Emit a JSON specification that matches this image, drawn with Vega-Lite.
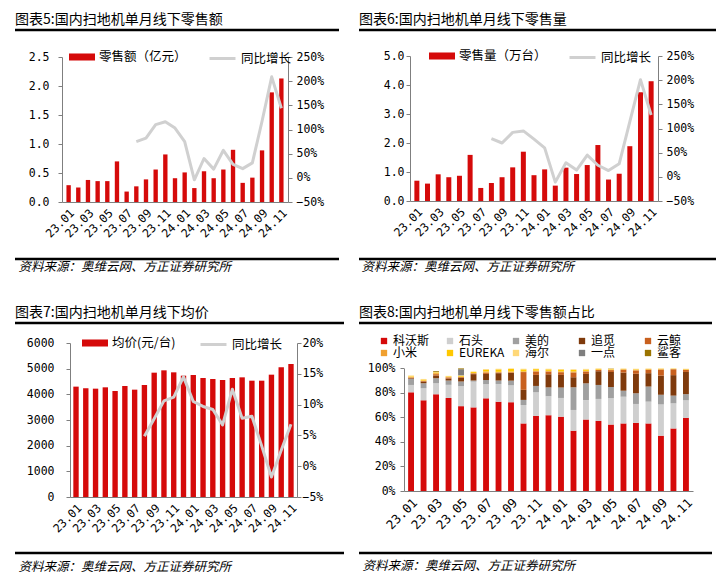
{
  "$schema": "https://vega.github.io/schema/vega-lite/v6.json",
  "background": "white",
  "padding": {"left": 13, "top": 13, "right": 0, "bottom": 0},
  "datasets": {
    "edges": [{"edge": "top"}, {"edge": "bottom"}],
    "p1": [
      {"m": "23.01", "v": 0.29}, {"m": "23.02", "v": 0.25}, {"m": "23.03", "v": 0.38}, {"m": "23.04", "v": 0.36},
      {"m": "23.05", "v": 0.36}, {"m": "23.06", "v": 0.70}, {"m": "23.07", "v": 0.18},
      {"m": "23.08", "v": 0.27, "g": 0.75}, {"m": "23.09", "v": 0.39, "g": 0.82}, {"m": "23.10", "v": 0.56, "g": 1.10},
      {"m": "23.11", "v": 0.82, "g": 1.16}, {"m": "23.12", "v": 0.41, "g": 1.03}, {"m": "24.01", "v": 0.51, "g": 0.75},
      {"m": "24.02", "v": 0.24, "g": -0.04}, {"m": "24.03", "v": 0.53, "g": 0.40}, {"m": "24.04", "v": 0.41, "g": 0.18},
      {"m": "24.05", "v": 0.56, "g": 0.57}, {"m": "24.06", "v": 0.90, "g": 0.28}, {"m": "24.07", "v": 0.33, "g": 0.19},
      {"m": "24.08", "v": 0.42, "g": 0.31}, {"m": "24.09", "v": 0.89, "g": 1.17}, {"m": "24.10", "v": 1.89, "g": 2.09},
      {"m": "24.11", "v": 2.13, "g": 1.44}
    ],
    "p2": [
      {"m": "23.01", "v": 0.70}, {"m": "23.02", "v": 0.60}, {"m": "23.03", "v": 0.92}, {"m": "23.04", "v": 0.82},
      {"m": "23.05", "v": 0.87}, {"m": "23.06", "v": 1.59}, {"m": "23.07", "v": 0.45},
      {"m": "23.08", "v": 0.62, "g": 0.79}, {"m": "23.09", "v": 0.82, "g": 0.70}, {"m": "23.10", "v": 1.16, "g": 0.92},
      {"m": "23.11", "v": 1.70, "g": 0.95}, {"m": "23.12", "v": 0.89, "g": 0.78}, {"m": "24.01", "v": 1.09, "g": 0.60},
      {"m": "24.02", "v": 0.53, "g": -0.11}, {"m": "24.03", "v": 1.15, "g": 0.29}, {"m": "24.04", "v": 0.93, "g": 0.14},
      {"m": "24.05", "v": 1.24, "g": 0.45}, {"m": "24.06", "v": 1.93, "g": 0.24}, {"m": "24.07", "v": 0.74, "g": 0.13},
      {"m": "24.08", "v": 0.94, "g": 0.27}, {"m": "24.09", "v": 1.89, "g": 1.14}, {"m": "24.10", "v": 3.75, "g": 2.01},
      {"m": "24.11", "v": 4.13, "g": 1.28}
    ],
    "p3": [
      {"m": "23.01", "v": 4300}, {"m": "23.02", "v": 4234}, {"m": "23.03", "v": 4221}, {"m": "23.04", "v": 4273},
      {"m": "23.05", "v": 4130}, {"m": "23.06", "v": 4325}, {"m": "23.07", "v": 4182},
      {"m": "23.08", "v": 4364, "g": 0.0485}, {"m": "23.09", "v": 4844, "g": 0.077}, {"m": "23.10", "v": 4935, "g": 0.106},
      {"m": "23.11", "v": 4857, "g": 0.112}, {"m": "23.12", "v": 4727, "g": 0.145}, {"m": "24.01", "v": 4753, "g": 0.105},
      {"m": "24.02", "v": 4636, "g": 0.097}, {"m": "24.03", "v": 4597, "g": 0.092}, {"m": "24.04", "v": 4558, "g": 0.067},
      {"m": "24.05", "v": 4636, "g": 0.125}, {"m": "24.06", "v": 4662, "g": 0.078}, {"m": "24.07", "v": 4532, "g": 0.081},
      {"m": "24.08", "v": 4532, "g": 0.033}, {"m": "24.09", "v": 4766, "g": -0.0175}, {"m": "24.10", "v": 5052, "g": 0.026},
      {"m": "24.11", "v": 5182, "g": 0.068}
    ],
    "p4": [
      {"m": "23.01", "科沃斯": 80.5, "石头": 6.0, "美的": 5.0, "追觅": 0.5, "云鲸": 0.5, "小米": 0.5, "EUREKA": 0.5, "海尔": 0.7, "一点": 0, "鲨客": 0},
      {"m": "23.02", "科沃斯": 74.0, "石头": 9.8, "美的": 4.1, "追觅": 1.3, "云鲸": 0.5, "小米": 0.4, "EUREKA": 0.8, "海尔": 0.5, "一点": 0, "鲨客": 0},
      {"m": "23.03", "科沃斯": 78.9, "石头": 9.0, "美的": 4.1, "追觅": 2.2, "云鲸": 1.1, "小米": 0.8, "EUREKA": 0.6, "海尔": 0.3, "一点": 0, "鲨客": 0.7},
      {"m": "23.04", "科沃斯": 75.9, "石头": 10.7, "美的": 3.5, "追觅": 1.6, "云鲸": 0.9, "小米": 0.4, "EUREKA": 0.5, "海尔": 0.4, "一点": 0, "鲨客": 0},
      {"m": "23.05", "科沃斯": 69.2, "石头": 16.3, "美的": 3.8, "追觅": 3.0, "云鲸": 0.6, "小米": 0.3, "EUREKA": 0.8, "海尔": 0.3, "一点": 5.0, "鲨客": 0.7},
      {"m": "23.06", "科沃斯": 68.2, "石头": 21.0, "美的": 0.9, "追觅": 5.2, "云鲸": 0.6, "小米": 0.4, "EUREKA": 0.8, "海尔": 0.4, "一点": 0, "鲨客": 0},
      {"m": "23.07", "科沃斯": 75.6, "石头": 11.5, "美的": 3.4, "追觅": 5.0, "云鲸": 1.0, "小米": 1.0, "EUREKA": 1.5, "海尔": 0.5, "一点": 0, "鲨客": 0},
      {"m": "23.08", "科沃斯": 72.8, "石头": 14.5, "美的": 2.8, "追觅": 6.0, "云鲸": 0.6, "小米": 0.5, "EUREKA": 2.0, "海尔": 0.5, "一点": 0, "鲨客": 0},
      {"m": "23.09", "科沃斯": 72.4, "石头": 13.8, "美的": 3.8, "追觅": 6.3, "云鲸": 0.5, "小米": 0.6, "EUREKA": 2.2, "海尔": 0.4, "一点": 0, "鲨客": 0},
      {"m": "23.10", "科沃斯": 55.1, "石头": 15.0, "美的": 4.2, "追觅": 8.2, "云鲸": 14.5, "小米": 0.6, "EUREKA": 1.6, "海尔": 0.5, "一点": 0, "鲨客": 0},
      {"m": "23.11", "科沃斯": 61.3, "石头": 19.2, "美的": 5.2, "追觅": 9.0, "云鲸": 2.8, "小米": 0.6, "EUREKA": 1.3, "海尔": 0.4, "一点": 0, "鲨客": 0},
      {"m": "23.12", "科沃斯": 61.8, "石头": 15.6, "美的": 7.1, "追觅": 10.7, "云鲸": 2.2, "小米": 0.6, "EUREKA": 1.2, "海尔": 0.5, "一点": 0, "鲨客": 0},
      {"m": "24.01", "科沃斯": 60.6, "石头": 15.3, "美的": 8.5, "追觅": 10.3, "云鲸": 2.2, "小米": 0.6, "EUREKA": 1.6, "海尔": 0.4, "一点": 0, "鲨客": 0},
      {"m": "24.02", "科沃斯": 49.2, "石头": 16.9, "美的": 18.5, "追觅": 8.2, "云鲸": 3.9, "小米": 0.8, "EUREKA": 1.3, "海尔": 0.5, "一点": 0, "鲨客": 0},
      {"m": "24.03", "科沃斯": 58.3, "石头": 15.9, "美的": 13.6, "追觅": 7.7, "云鲸": 1.9, "小米": 0.6, "EUREKA": 1.0, "海尔": 0.6, "一点": 0, "鲨客": 0},
      {"m": "24.04", "科沃斯": 57.2, "石头": 17.9, "美的": 11.4, "追觅": 11.2, "云鲸": 1.0, "小米": 0.4, "EUREKA": 0.5, "海尔": 0.4, "一点": 0, "鲨客": 0},
      {"m": "24.05", "科沃斯": 54.2, "石头": 21.5, "美的": 9.1, "追觅": 12.3, "云鲸": 1.5, "小米": 0.4, "EUREKA": 0.4, "海尔": 0.4, "一点": 0, "鲨客": 0.2},
      {"m": "24.06", "科沃斯": 55.1, "石头": 21.8, "美的": 4.9, "追觅": 14.8, "云鲸": 2.3, "小米": 0.4, "EUREKA": 0.3, "海尔": 0.3, "一点": 0, "鲨客": 0},
      {"m": "24.07", "科沃斯": 55.6, "石头": 15.4, "美的": 8.7, "追觅": 15.9, "云鲸": 2.7, "小米": 0.6, "EUREKA": 0.4, "海尔": 0.4, "一点": 0, "鲨客": 0},
      {"m": "24.08", "科沃斯": 55.1, "石头": 17.8, "美的": 12.3, "追觅": 10.9, "云鲸": 2.7, "小米": 0.5, "EUREKA": 0.3, "海尔": 0.3, "一点": 0, "鲨客": 0},
      {"m": "24.09", "科沃斯": 45.1, "石头": 25.5, "美的": 7.9, "追觅": 15.6, "云鲸": 4.9, "小米": 0.4, "EUREKA": 0.3, "海尔": 0.3, "一点": 0, "鲨客": 0},
      {"m": "24.10", "科沃斯": 51.0, "石头": 20.5, "美的": 6.3, "追觅": 16.7, "云鲸": 4.8, "小米": 0.3, "EUREKA": 0.2, "海尔": 0.2, "一点": 0, "鲨客": 0},
      {"m": "24.11", "科沃斯": 59.7, "石头": 14.3, "美的": 5.0, "追觅": 18.1, "云鲸": 1.6, "小米": 0.4, "EUREKA": 0.3, "海尔": 0.3, "一点": 0, "鲨客": 0}
    ],
    "brands": [
      {"b": "科沃斯", "k": 0}, {"b": "石头", "k": 1}, {"b": "美的", "k": 2}, {"b": "追觅", "k": 3}, {"b": "云鲸", "k": 4},
      {"b": "小米", "k": 5}, {"b": "EUREKA", "k": 6}, {"b": "海尔", "k": 7}, {"b": "一点", "k": 8}, {"b": "鲨客", "k": 9}
    ]
  },
  "concat": [
    {
      "width": 324, "height": 249,
      "title": {"text": "图表5:国内扫地机单月线下零售额"},
      "layer": [
        {
          "data": {"name": "p1"},
          "encoding": {
            "x": {"field": "m", "type": "ordinal", "scale": {"range": [47, 273], "paddingInner": 0.55, "paddingOuter": 0.46},
              "axis": {"offset": -67, "values": ["23.01","23.03","23.05","23.07","23.09","23.11","24.01","24.03","24.05","24.07","24.09","24.11"],
                "title": "资料来源：奥维云网、方正证券研究所", "titleX": 3, "titleY": 64}}
          },
          "layer": [
            {"mark": {"type": "bar"},
             "encoding": {
               "y": {"field": "v", "type": "quantitative", "title": null, "scale": {"domain": [0, 2.5], "range": [182, 37], "nice": false},
                 "axis": {"orient": "left", "offset": -47, "values": [0, 0.5, 1, 1.5, 2, 2.5], "format": ".1f", "labelPadding": 9}},
               "fill": {"datum": "零售额（亿元）", "type": "nominal", "title": null, "scale": {"range": ["#d50a0a"]},
                 "legend": {"orient": "none", "legendX": 54, "legendY": 24, "symbolType": "M-1,-0.27H1V0.27H-1Z", "symbolSize": 676, "symbolStrokeWidth": 0}}
             }},
            {"mark": {"type": "line", "strokeWidth": 3, "strokeJoin": "round"},
             "encoding": {
               "y": {"field": "g", "type": "quantitative", "title": null, "scale": {"domain": [-0.5, 2.5], "range": [182, 37], "nice": false, "zero": false},
                 "axis": {"orient": "right", "offset": -51, "values": [-0.5, 0, 0.5, 1, 1.5, 2, 2.5], "format": ".0%", "labelPadding": 4}},
               "stroke": {"datum": "同比增长", "type": "nominal", "title": null, "scale": {"range": ["#d0d0d0"]},
                 "legend": {"orient": "none", "legendX": 193, "legendY": 24, "symbolType": "stroke", "symbolSize": 676, "symbolStrokeWidth": 3}}
             }}
          ],
          "resolve": {"scale": {"y": "independent"}}
        },
        {
          "data": {"name": "edges"},
          "mark": {"type": "rule", "color": "#000", "strokeWidth": 2.5},
          "encoding": {"y": {"field": "edge", "type": "ordinal", "scale": {"type": "band", "domain": ["top", "bottom"], "paddingInner": 0.95, "paddingOuter": 0.01867}, "axis": null}}
        }
      ],
      "resolve": {"scale": {"y": "independent"}}
    },
    {
      "width": 357, "height": 249,
      "title": {"text": "图表6:国内扫地机单月线下零售量"},
      "layer": [
        {
          "data": {"name": "p2"},
          "encoding": {
            "x": {"field": "m", "type": "ordinal", "scale": {"range": [51, 299], "paddingInner": 0.53, "paddingOuter": 0.41},
              "axis": {"offset": -68, "values": ["23.01","23.03","23.05","23.07","23.09","23.11","24.01","24.03","24.05","24.07","24.09","24.11"],
                "title": "资料来源：奥维云网、方正证券研究所", "titleX": 2, "titleY": 65}}
          },
          "layer": [
            {"mark": {"type": "bar"},
             "encoding": {
               "y": {"field": "v", "type": "quantitative", "title": null, "scale": {"domain": [0, 5], "range": [181, 36], "nice": false},
                 "axis": {"orient": "left", "offset": -51, "values": [0, 1, 2, 3, 4, 5], "format": ".1f", "labelPadding": 2}},
               "fill": {"datum": "零售量（万台）", "type": "nominal", "title": null, "scale": {"range": ["#d50a0a"]},
                 "legend": {"orient": "none", "legendX": 70, "legendY": 23, "symbolType": "M-1,-0.27H1V0.27H-1Z", "symbolSize": 676, "symbolStrokeWidth": 0}}
             }},
            {"mark": {"type": "line", "strokeWidth": 3, "strokeJoin": "round"},
             "encoding": {
               "y": {"field": "g", "type": "quantitative", "title": null, "scale": {"domain": [-0.5, 2.5], "range": [181, 36], "nice": false, "zero": false},
                 "axis": {"orient": "right", "offset": -58, "values": [-0.5, 0, 0.5, 1, 1.5, 2, 2.5], "format": ".0%", "labelPadding": 4}},
               "stroke": {"datum": "同比增长", "type": "nominal", "title": null, "scale": {"range": ["#d0d0d0"]},
                 "legend": {"orient": "none", "legendX": 209, "legendY": 23, "symbolType": "stroke", "symbolSize": 676, "symbolStrokeWidth": 3}}
             }}
          ],
          "resolve": {"scale": {"y": "independent"}}
        },
        {
          "data": {"name": "edges"},
          "mark": {"type": "rule", "color": "#000", "strokeWidth": 2.5},
          "encoding": {"y": {"field": "edge", "type": "ordinal", "scale": {"type": "band", "domain": ["top", "bottom"], "paddingInner": 0.95, "paddingOuter": 0.01867}, "axis": null}}
        }
      ],
      "resolve": {"scale": {"y": "independent"}}
    },
    {
      "width": 329, "height": 250,
      "title": {"text": "图表7:国内扫地机单月线下均价"},
      "layer": [
        {
          "data": {"name": "p3"},
          "encoding": {
            "x": {"field": "m", "type": "ordinal", "scale": {"range": [55, 282], "paddingInner": 0.45, "paddingOuter": 0.34},
              "axis": {"offset": -66, "values": ["23.01","23.03","23.05","23.07","23.09","23.11","24.01","24.03","24.05","24.07","24.09","24.11"],
                "title": "资料来源：奥维云网、方正证券研究所", "titleX": 3, "titleY": 69}}
          },
          "layer": [
            {"mark": {"type": "bar"},
             "encoding": {
               "y": {"field": "v", "type": "quantitative", "title": null, "scale": {"domain": [0, 6000], "range": [184, 30], "nice": false},
                 "axis": {"orient": "left", "offset": -55, "values": [0, 1000, 2000, 3000, 4000, 5000, 6000], "format": "d", "labelPadding": 12}},
               "fill": {"datum": "均价(元/台)", "type": "nominal", "title": null, "scale": {"range": ["#d50a0a"]},
                 "legend": {"orient": "none", "legendX": 67, "legendY": 17, "symbolType": "M-1,-0.27H1V0.27H-1Z", "symbolSize": 676, "symbolStrokeWidth": 0}}
             }},
            {"mark": {"type": "line", "strokeWidth": 3, "strokeJoin": "round"},
             "encoding": {
               "y": {"field": "g", "type": "quantitative", "title": null, "scale": {"domain": [-0.05, 0.2], "range": [184, 30], "nice": false, "zero": false},
                 "axis": {"orient": "right", "offset": -47, "values": [-0.05, 0, 0.05, 0.1, 0.15, 0.2], "format": ".0%", "labelPadding": 1}},
               "stroke": {"datum": "同比增长", "type": "nominal", "title": null, "scale": {"range": ["#d0d0d0"]},
                 "legend": {"orient": "none", "legendX": 184, "legendY": 17, "symbolType": "stroke", "symbolSize": 676, "symbolStrokeWidth": 3}}
             }}
          ],
          "resolve": {"scale": {"y": "independent"}}
        },
        {
          "data": {"name": "edges"},
          "mark": {"type": "rule", "color": "#000", "strokeWidth": 2.5},
          "encoding": {"y": {"field": "edge", "type": "ordinal", "scale": {"type": "band", "domain": ["top", "bottom"], "paddingInner": 0.95, "paddingOuter": 0.01848}, "axis": null}}
        }
      ],
      "resolve": {"scale": {"y": "independent"}}
    },
    {
      "width": 353, "height": 250,
      "title": {"text": "图表8:国内扫地机单月线下零售额占比"},
      "layer": [
        {
          "data": {"name": "p4"},
          "transform": [
            {"fold": ["科沃斯", "石头", "美的", "追觅", "云鲸", "小米", "EUREKA", "海尔", "一点", "鲨客"], "as": ["b", "v"]},
            {"lookup": "b", "from": {"data": {"name": "brands"}, "key": "b", "fields": ["k"]}}
          ],
          "mark": {"type": "bar"},
          "encoding": {
            "x": {"field": "m", "type": "ordinal", "scale": {"range": [45, 334], "paddingInner": 0.53, "paddingOuter": 0.33},
              "axis": {"offset": -72, "labelFontSize": 12.5, "values": ["23.01","23.03","23.05","23.07","23.09","23.11","24.01","24.03","24.05","24.07","24.09","24.11"],
                "title": "资料来源：奥维云网、方正证券研究所", "titleX": 3, "titleY": 74}},
            "y": {"field": "v", "type": "quantitative", "stack": "zero", "title": null, "scale": {"domain": [0, 100], "range": [178, 55.4], "nice": false},
              "axis": {"orient": "left", "offset": -45, "values": [0, 20, 40, 60, 80, 100], "labelExpr": "datum.value + '%'", "labelPadding": 5}},
            "fill": {"field": "b", "type": "nominal", "title": null,
              "scale": {"domain": ["科沃斯", "石头", "美的", "追觅", "云鲸", "小米", "EUREKA", "海尔", "一点", "鲨客"],
                        "range": ["#d50a0a", "#cfcfcf", "#a0a0a0", "#7f3a0c", "#c8601e", "#f0a030", "#ffc800", "#ffd878", "#7f7f7f", "#9a7400"]},
              "legend": {"orient": "none", "legendX": 19, "legendY": 22, "columns": 5, "direction": "horizontal", "symbolType": "square", "symbolSize": 40,
                "symbolStrokeWidth": 0, "labelFontSize": 12, "columnPadding": 5, "rowPadding": 0, "gridAlign": "all", "labelOffset": 3}},
            "order": {"field": "k", "type": "quantitative"}
          }
        },
        {
          "data": {"name": "edges"},
          "mark": {"type": "rule", "color": "#000", "strokeWidth": 2.5},
          "encoding": {"y": {"field": "edge", "type": "ordinal", "scale": {"type": "band", "domain": ["top", "bottom"], "paddingInner": 0.95, "paddingOuter": 0.01848}, "axis": null}}
        }
      ],
      "resolve": {"scale": {"y": "independent"}}
    }
  ],
  "columns": 2,
  "align": "none",
  "bounds": "flush",
  "spacing": {"row": 44, "column": 15},
  "resolve": {"scale": {"fill": "independent", "stroke": "independent"}, "legend": {"fill": "independent", "stroke": "independent"}},
  "config": {
    "font": "Noto Sans CJK SC",
    "view": {"stroke": null},
    "title": {"anchor": "start", "frame": "group", "fontSize": 14, "fontWeight": "normal", "font": "Noto Sans CJK SC", "color": "#000", "offset": -7},
    "axis": {"labelFont": "DejaVu Sans Mono", "labelFontSize": 11.5, "labelColor": "#000", "domainColor": "#7f7f7f", "tickColor": "#7f7f7f", "tickSize": 4, "grid": false},
    "axisX": {"labelAngle": -45, "ticks": false, "labelOverlap": false, "labelPadding": 5,
      "titleFont": "Noto Sans CJK SC", "titleFontSize": 12.5, "titleFontStyle": "italic", "titleFontWeight": "normal", "titleColor": "#000",
      "titleAlign": "left", "titleBaseline": "middle", "titleAnchor": "start"},
    "legend": {"padding": 0, "labelFont": "Noto Sans CJK SC", "labelFontSize": 12.5, "labelColor": "#000", "labelOffset": 4}
  }
}
